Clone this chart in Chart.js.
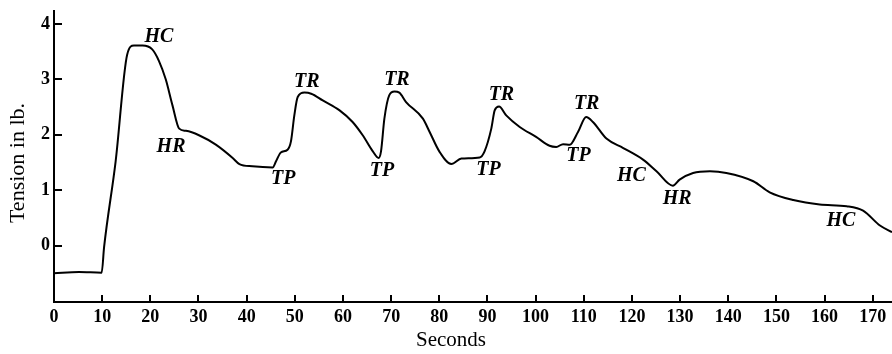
<!DOCTYPE html>
<html>
<head>
<meta charset="utf-8">
<script src="https://cdn.jsdelivr.net/npm/chart.js@4.4.1/dist/chart.umd.min.js"></script>
<style>
  html, body { margin: 0; padding: 0; background: #fff; }
  #wrap { width: 892px; height: 354px; position: relative; }
</style>
</head>
<body>
<div id="wrap"><canvas id="c" width="892" height="354"></canvas></div>
<script>
// Tension trace over time
const timeSec = [0, 5.2, 9.9, 10.4, 12.8, 15.2, 16.6, 18.4, 20.4, 21.8, 23.2, 24.6, 26.0, 27.4, 30.1, 33.6,
  37.1, 38.5, 41.2, 45.4, 46.1, 47.1, 48.5, 49.2, 49.9, 50.6, 52.0, 53.4, 55.8, 59.3, 62.0, 64.1, 66.2, 67.4,
  67.9, 68.6, 69.6, 70.7, 71.7, 73.1, 76.6, 78.0, 80.0, 82.5, 84.6, 88.4, 89.4, 90.8, 91.5, 92.4, 93.9, 96.7,
  100.1, 102.9, 104.3, 105.7, 107.1, 108.8, 110.5, 111.9, 114.7, 118.2, 122.3, 125.1, 128.5, 129.9, 132.7,
  136.2, 139.6, 145.2, 148.6, 153.5, 159.0, 164.6, 168.0, 171.5, 174.0];
const tensionLb = [-0.50, -0.48, -0.49, -0.03, 1.52, 3.45, 3.61, 3.61, 3.54, 3.33, 3.00, 2.53, 2.11, 2.07, 1.99, 1.82,
  1.58, 1.47, 1.43, 1.41, 1.52, 1.68, 1.73, 1.88, 2.35, 2.68, 2.76, 2.74, 2.62, 2.44, 2.23, 1.99, 1.70, 1.58,
  1.70, 2.29, 2.71, 2.78, 2.76, 2.59, 2.29, 2.05, 1.70, 1.47, 1.57, 1.59, 1.70, 2.11, 2.44, 2.51, 2.35, 2.14,
  1.96, 1.80, 1.78, 1.83, 1.82, 2.05, 2.32, 2.23, 1.93, 1.76, 1.55, 1.34, 1.08, 1.19, 1.31,
  1.34, 1.31, 1.16, 0.96, 0.82, 0.74, 0.71, 0.63, 0.36, 0.24];

// Phase annotations along the trace
const phaseText = ['HC', 'HR', 'TP', 'TR', 'TP', 'TR', 'TP', 'TR', 'TP', 'TR', 'HC', 'HR', 'HC'];
const phaseTime = [21.8, 24.3, 47.6, 52.5, 68.1, 71.2, 90.2, 92.9, 108.9, 110.6, 119.9, 129.4, 163.4];
const phaseTension = [3.77, 1.79, 1.20, 2.95, 1.34, 2.99, 1.37, 2.72, 1.61, 2.56, 1.26, 0.85, 0.45];

// Axis ticks
const xTicks = [0, 10, 20, 30, 40, 50, 60, 70, 80, 90, 100, 110, 120, 130, 140, 150, 160, 170];
const yTicks = [0, 1, 2, 3, 4];

const SERIF = '"Liberation Serif", "DejaVu Serif", serif';

const decor = {
  id: 'decor',
  afterDraw(chart) {
    const ctx = chart.ctx;
    const xs = chart.scales.x, ys = chart.scales.y;
    const area = chart.chartArea;
    ctx.save();
    // inward tick marks
    ctx.strokeStyle = '#000';
    ctx.lineWidth = 2;
    xTicks.forEach(v => {
      const px = Math.round(xs.getPixelForValue(v));
      ctx.beginPath();
      ctx.moveTo(px, area.bottom);
      ctx.lineTo(px, area.bottom - 7);
      ctx.stroke();
    });
    yTicks.forEach(v => {
      const py = Math.round(ys.getPixelForValue(v));
      ctx.beginPath();
      ctx.moveTo(area.left, py);
      ctx.lineTo(area.left + 8, py);
      ctx.stroke();
    });
    // phase labels
    ctx.fillStyle = '#000';
    ctx.font = 'italic bold 20px ' + SERIF;
    ctx.textAlign = 'center';
    ctx.textBaseline = 'middle';
    phaseText.forEach((t, i) => {
      ctx.fillText(t, xs.getPixelForValue(phaseTime[i]), ys.getPixelForValue(phaseTension[i]));
    });
    // axis titles
    ctx.font = '21px ' + SERIF;
    ctx.fillText('Seconds', 451, 340);
    ctx.translate(18, 163);
    ctx.rotate(-Math.PI / 2);
    ctx.font = '22px ' + SERIF;
    ctx.fillText('Tension in lb.', 0, 0);
    ctx.restore();
  }
};

const bg = {
  id: 'bg',
  beforeDraw(chart) {
    const ctx = chart.ctx;
    ctx.save();
    ctx.fillStyle = '#fff';
    ctx.fillRect(0, 0, chart.width, chart.height);
    ctx.restore();
  }
};

new Chart(document.getElementById('c'), {
  type: 'line',
  data: {
    datasets: [{
      data: timeSec.map((t, i) => ({ x: t, y: tensionLb[i] })),
      borderColor: '#000',
      borderWidth: 2,
      pointRadius: 0,
      cubicInterpolationMode: 'monotone',
      fill: false
    }]
  },
  options: {
    responsive: false,
    animation: false,
    layout: { padding: { top: 8, right: 0, left: 0, bottom: 0 } },
    plugins: { legend: { display: false }, tooltip: { enabled: false } },
    scales: {
      x: {
        type: 'linear',
        min: 0,
        max: 174,
        afterBuildTicks: s => { s.ticks = xTicks.map(v => ({ value: v })); },
        afterFit: s => { s.height = 52; },
        grid: { display: true, drawOnChartArea: false, drawTicks: false },
        border: { display: true, color: '#000', width: 2 },
        ticks: {
          color: '#000',
          padding: 5,
          maxRotation: 0,
          autoSkip: false,
          font: { family: SERIF, size: 18, weight: 'bold' }
        }
      },
      y: {
        type: 'linear',
        min: -1.02,
        max: 4.23,
        afterBuildTicks: s => { s.ticks = yTicks.map(v => ({ value: v })); },
        afterFit: s => { s.width = 54; },
        grid: { display: true, drawOnChartArea: false, drawTicks: false },
        border: { display: true, color: '#000', width: 2 },
        ticks: {
          color: '#000',
          padding: 4,
          font: { family: SERIF, size: 18, weight: 'bold', lineHeight: 0.8 }
        }
      }
    }
  },
  plugins: [bg, decor]
});
</script>
</body>
</html>
